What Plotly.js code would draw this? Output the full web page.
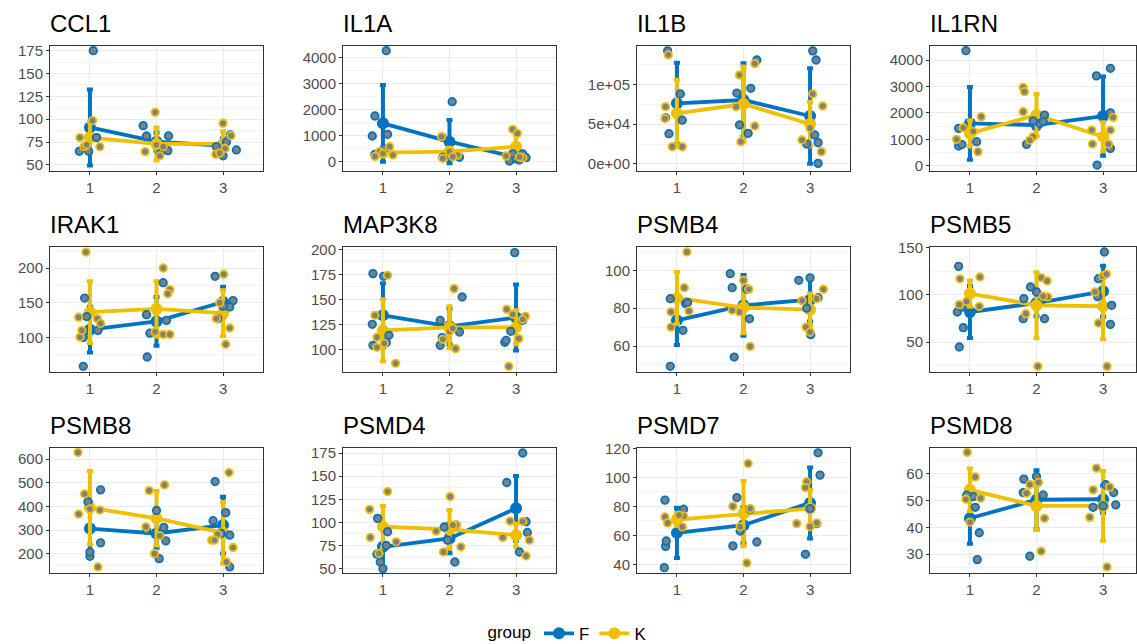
<!DOCTYPE html>
<html><head><meta charset="utf-8">
<script src="https://cdn.plot.ly/plotly-3.0.1.min.js"></script>
<style>html,body{margin:0;padding:0;background:#fff}#chart{width:1137px;height:644px}</style>
</head><body><div id="chart"></div>
<script>
// ---------------- data ----------------
const genes = ["CCL1","IL1A","IL1B","IL1RN","IRAK1","MAP3K8","PSMB4","PSMB5","PSMB8","PSMD4","PSMD7","PSMD8"];
const times = [1, 2, 3];
const groups = ["F", "K"];

// group means and SD per gene (time 1,2,3)
const meanF = [[91,75.5,71],[1470,767,166],[76150,80300,60250],[1602,1540,1880],[111,123,151],[134,123,131.7],
  [73.6,81.5,84.5],[81.8,91.3,103.7],[307,286,321.5],[73.6,82.6,115.2],[61.7,67,82.4],[43.4,50.3,50.5]];
const sdF = [[41.5,10,8],[1470,830,150],[51000,46000,60000],[1375,150,1500],[33,35,22],[32,18,33],
  [13,16,11.5],[27.6,14,27],[110,60,120],[22,16,35],[17.3,12.5,24.5],[9.5,11,5]];
const meanK = [[80,73,73],[345,383,575],[63600,75300,50200],[1224,1918,1098],[136.5,141,135],[119,122,122],
  [85.4,80.3,79.2],[101.3,88.9,87.9],[395,350,289],[95.3,92.4,86.2],[70.9,75,78.5],[54,48,48]];
const sdK = [[17,18,14],[120,150,450],[42000,47000,28000],[500,800,550],[44.5,40,33],[31,21,17],
  [13.7,13.5,8.5],[14,35,35],[155,115,130],[22.5,21,12.5],[4.5,22.5,13],[8,9,13]];

// individual samples: gene -> time -> values ; dx = horizontal jitter
const ptsF = [
  [[175,65,70,80,65],[93,81.7,81.7,65.7,62],[82.8,66.4,60,70,75]],
  [[4256,1751,984,1048,281,500],[2300,933,166,166,270],[294,153,25,64,300]],
  [[142000,88000,58000,38000,55000],[130500,95000,49000,38500,89000],[142000,130500,36400,26800,800,25000]],
  [[4353,1413,744,908,800],[808,1918,1600,1700,1670],[3400,3685,2000,656,25]],
  [[156.7,58.2,130,100,110],[132.7,71.6,178.8,106,124.5],[188,153,143.8,127,145]],
  [[175.7,173,125,104,106.7,114],[129,111.7,104,152.3,117.3],[196.7,107,109,129,118]],
  [[49.3,85,82.4,68.3,83],[98.2,90.8,54.2,74.4,90],[94.7,66,85.5,96,80]],
  [[130.2,44.7,65.2,81.8,87],[108.3,96,74.7,74.7,103],[145.4,117.1,88.9,68.7,98]],
  [[470,246.6,190,208,420],[180,255,311.7,300,383],[505,340,374,279,145,286]],
  [[104.3,65.6,57.2,50,89.9,75],[57.2,80.8,97.1,95],[175,143.1,100.7,89.1,68]],
  [[84.3,52.4,56.1,37.7,78],[86.1,52.7,55.4,78,63],[117,101.6,46.9,68.1,78.5]],
  [[47.5,38,28,51.5,52],[58,29.25,53,52.1,59],[53,48.4,47.5,55.9,48]]
];
const dxF = [
  [[0.05,-0.16,-0.08,0.1,-0.02],[-0.2,-0.15,0.18,0.17,0.05],[0.11,0.2,0,-0.1,0.05]],
  [[0.05,-0.12,-0.16,0.07,-0.12,0.02],[0.04,-0.11,-0.1,0.15,0],[0.1,0.15,-0.1,0.05,-0.05]],
  [[-0.14,0.05,-0.17,-0.12,0.08],[0.2,0.11,-0.06,0.07,-0.1],[0.04,0.09,0.07,0.12,0.12,-0.05]],
  [[-0.06,-0.17,-0.17,0.1,-0.12],[-0.15,0.12,0.05,-0.05,0.1],[-0.1,0.11,0.11,0.11,-0.09]],
  [[-0.08,-0.1,-0.05,-0.1,0.12],[-0.15,-0.14,0.1,-0.1,0.15],[-0.12,0.15,0.1,-0.08,0]],
  [[-0.15,0.01,-0.16,-0.15,0.05,0.09],[-0.14,-0.11,-0.14,0.19,0.15],[-0.02,-0.17,-0.15,0.1,-0.08]],
  [[-0.1,-0.1,0.13,0.09,0.16],[-0.2,-0.17,-0.14,0.09,0.05],[-0.17,0.01,0.12,0,-0.05]],
  [[-0.17,-0.16,-0.1,-0.19,-0.12],[-0.09,-0.19,-0.2,0.12,0],[0.02,-0.07,0.13,0.11,-0.08]],
  [[0.16,0.16,0,0,-0.03],[0.04,0.14,0.11,-0.15,0],[-0.12,-0.15,0.04,0.1,0.1,-0.03]],
  [[-0.08,-0.09,-0.04,0,0.07,0.05],[0.08,-0.03,0.1,-0.08],[0.1,-0.14,0.15,0.17,0.05]],
  [[-0.18,-0.17,-0.16,-0.19,0.1],[-0.1,-0.16,0.2,0.1,-0.05],[0.12,0.15,-0.07,0.1,0]],
  [[0.08,0.14,0.11,0.05,-0.05],[-0.19,-0.1,-0.2,0.1,0],[0.16,0.19,-0.15,0.04,0]]
];
const ptsK = [
  [[98.5,80,70,70,72],[107.6,64.6,72,70,60],[95.6,61.7,82,68,63]],
  [[575,256,383,200,310],[958,383,128,256,190],[1240,1086,217,150,180]],
  [[137000,72000,57000,21700,21700],[126000,111700,47700,28000,72000],[87900,72800,30100,15500,45000]],
  [[1855,997,530,1300,1440],[2965,2800,2044,1098,972],[1830,1350,1350,820,820]],
  [[223,129,100.5,127,120,110],[200,168.8,163,104.3,104.3,108],[191,113.5,90,127,150]],
  [[174,134,112,102,86,106],[160.7,100.7,118,110,121],[140,133,110.7,83,130,135]],
  [[109.7,90.8,78,70,78.5],[59.8,78,94.7,78.9,90],[90,70,67.4,84,85]],
  [[118.9,117,89.6,87.8,93],[118.2,114.7,97.7,80,24.2,98.5],[24.2,103,70.1,120,122]],
  [[628,453,368,385,145,390],[467,491,314.5,201,277],[543,227,258,283,166,258]],
  [[133.3,114.1,83.7,79,66.4],[127.9,90.6,68.1,73.6,97.1,97],[101.4,80.8,63.8,83.7,101]],
  [[72.7,68.6,73.2,65.8,74],[109.6,40.9,80.1,78.5,66],[97,93,68.1,68.6,66]],
  [[68,58.8,50.5,50.9,42],[31.1,43.4,52.75,56.75,56],[62.1,43.75,25.25,55,54]]
];
const dxK = [
  [[0.04,-0.15,-0.09,0.15,-0.05],[-0.02,-0.17,0,0.1,0.05],[0,-0.11,0.12,0.03,-0.05]],
  [[0.1,0.15,-0.05,-0.12,0],[-0.12,0,-0.1,0.12,0.05],[-0.05,0.02,-0.15,0.1,0.05]],
  [[-0.13,-0.17,-0.18,-0.07,0.08],[0.17,-0.06,0.17,-0.04,-0.11],[0.04,0.19,-0.12,0.17,0]],
  [[0.17,-0.2,0.12,0.05,-0.1],[-0.2,-0.18,-0.2,-0.05,-0.1],[0.15,0.11,-0.17,-0.16,0.08]],
  [[-0.06,-0.17,-0.15,0.11,0.16,-0.12],[0.1,0.2,0.17,0.1,0.2,-0.02],[0.01,0.1,0.04,-0.1,-0.05]],
  [[0.07,-0.12,-0.09,-0.09,0.19,0.02],[0.07,0.09,0,-0.1,0.05],[-0.14,0.14,0.04,-0.11,0.1,-0.05]],
  [[0.15,0.11,-0.09,-0.09,0.18],[0.1,-0.06,0,-0.17,0.08],[0.2,-0.06,0,-0.12,0.1]],
  [[0.15,-0.15,-0.16,0.14,-0.05],[0.07,0.16,0.17,-0.16,0.02,0.1],[0.06,-0.12,-0.07,0,0.05]],
  [[-0.18,-0.08,-0.17,0.15,0.12,0],[-0.11,0.12,-0.16,-0.03,0.05],[0.09,0.15,-0.17,-0.08,0.05,-0.13]],
  [[0.07,-0.2,-0.19,0.2,-0.06],[0.01,-0.2,-0.09,0.17,0.1,0.05],[-0.09,0.2,0.15,-0.2,0.1]],
  [[-0.18,-0.14,0.1,0.08,0.03],[0.07,0.05,-0.16,0.1,-0.05],[-0.05,-0.07,-0.2,0.1,0]],
  [[-0.04,0.08,-0.06,0.16,0],[0.07,0.12,-0.15,0.03,-0.1],[-0.1,-0.2,0.06,0.1,-0.15]]
];

// y axis ticks / labels per gene
const yTicks = [[50,75,100,125,150,175],[0,1000,2000,3000,4000],[0,50000,100000],[0,1000,2000,3000,4000],
  [100,150,200],[100,125,150,175,200],[60,80,100],[50,100,150],[200,300,400,500,600],
  [50,75,100,125,150,175],[40,60,80,100,120],[30,40,50,60,70]];
const yLabels = [["50","75","100","125","150","175"],["0","1000","2000","3000","4000"],["0e+00","5e+04","1e+05"],
  ["0","1000","2000","3000","4000"],["100","150","200"],["100","125","150","175","200"],["60","80","100"],
  ["50","100","150"],["200","300","400","500","600"],["50","75","100","125","150","175"],
  ["40","60","80","100","120"],["30","40","50","60","70"]];
const xLabels = ["1","2","3"];

// ---------------- layout helpers (not data) ----------------
const W = 1137, H = 644;
const yRange = [[43.4,180.1],[-358,4435],[-8800,148100],[-200,4530],[50,230.3],[77.3,202.3],
  [46.3,112.3],[18.2,150.7],[119.4,646.6],[45.3,180.4],[34,120.3],[23,69.6]];
const colPx = [[50,263],[343,556],[637,850],[930,1136]];
const rowPx = [[46,171],[247,372],[448,573]];
const pxPerUnit = 213 / 3.2;
const colors = {F: '#0073C2', K: '#EFC000'};
const FONT = 'Liberation Sans, Arial, sans-serif';

const data = [];
const layout = {
  width: W, height: H, margin: {l: 0, r: 0, t: 0, b: 0, autoexpand: false},
  paper_bgcolor: '#ffffff', plot_bgcolor: '#ffffff',
  font: {family: FONT, color: '#000000'},
  showlegend: true,
  legend: {orientation: 'h', x: 0.5, xanchor: 'center', y: -0.012, yanchor: 'bottom',
    title: {text: 'group', side: 'left', font: {size: 17, color: '#000'}},
    font: {size: 17, color: '#000'}, itemwidth: 30, bgcolor: 'rgba(0,0,0,0)'},
  annotations: []
};

genes.forEach((gene, g) => {
  const r = Math.floor(g / 4), c = g % 4;
  const n = g + 1;
  const xa = 'xaxis' + (n === 1 ? '' : n), ya = 'yaxis' + (n === 1 ? '' : n);
  const xr = 'x' + (n === 1 ? '' : n), yr = 'y' + (n === 1 ? '' : n);
  const [x0, x1] = colPx[c];
  const [y0, y1] = rowPx[r];
  const xmax = 0.4 + (x1 - x0) / pxPerUnit;
  layout[xa] = {
    domain: [x0 / W, x1 / W], range: [0.4, xmax], anchor: yr,
    tickmode: 'array', tickvals: times, ticktext: xLabels,
    showgrid: true, gridcolor: '#ebebeb', gridwidth: 1, zeroline: false,
    showline: true, mirror: true, linecolor: '#333333', linewidth: 1,
    ticks: 'outside', ticklen: 3, tickcolor: '#333333', tickwidth: 1,
    tickfont: {size: 15, color: '#4d4d4d'}, fixedrange: true
  };
  const yt = yTicks[g];
  layout[ya] = {
    domain: [1 - y1 / H, 1 - y0 / H], range: yRange[g], anchor: xr,
    tickmode: 'array', tickvals: yt, ticktext: yLabels[g],
    showgrid: true, gridcolor: '#ebebeb', gridwidth: 1, zeroline: false,
    minor: {tickmode: 'linear', tick0: yt[0], dtick: (yt[1] - yt[0]) / 2, showgrid: true,
      gridcolor: '#f4f4f4', gridwidth: 1, ticks: ''},
    showline: true, mirror: true, linecolor: '#333333', linewidth: 1,
    ticks: 'outside', ticklen: 3, tickcolor: '#333333', tickwidth: 1,
    tickfont: {size: 15, color: '#4d4d4d'}, fixedrange: true
  };
  layout.annotations.push({
    text: gene, xref: 'paper', yref: 'paper', x: (x0 - 2) / W, y: 1 - (y0 - 7) / H,
    xanchor: 'left', yanchor: 'bottom', showarrow: false,
    font: {size: 24, color: '#000000', family: FONT}
  });

  const series = {F: [meanF[g], sdF[g], ptsF[g], dxF[g]], K: [meanK[g], sdK[g], ptsK[g], dxK[g]]};
  groups.forEach(grp => {
    const [m, s] = series[grp];
    data.push({
      type: 'scatter', mode: 'lines+markers', x: times, y: m, xaxis: xr, yaxis: yr,
      name: grp, legendgroup: grp, showlegend: g === 0,
      line: {color: colors[grp], width: 3.8}, marker: {color: colors[grp], size: 12},
      error_y: {type: 'data', array: s, visible: true, color: colors[grp], thickness: 4, width: 3},
      hoverinfo: 'skip'
    });
  });
  groups.forEach(grp => {
    const [, , pts, dx] = series[grp];
    const xs = [], ys = [];
    pts.forEach((vals, t) => vals.forEach((v, i) => { xs.push(times[t] + dx[t][i]); ys.push(v); }));
    data.push({
      type: 'scatter', mode: 'markers', x: xs, y: ys, xaxis: xr, yaxis: yr,
      showlegend: false, hoverinfo: 'skip', cliponaxis: true,
      marker: {color: '#808080', size: 7.5, line: {color: colors[grp], width: 1.8}}
    });
  });
});

Plotly.newPlot('chart', data, layout, {displayModeBar: false, staticPlot: true});
</script>
</body></html>
